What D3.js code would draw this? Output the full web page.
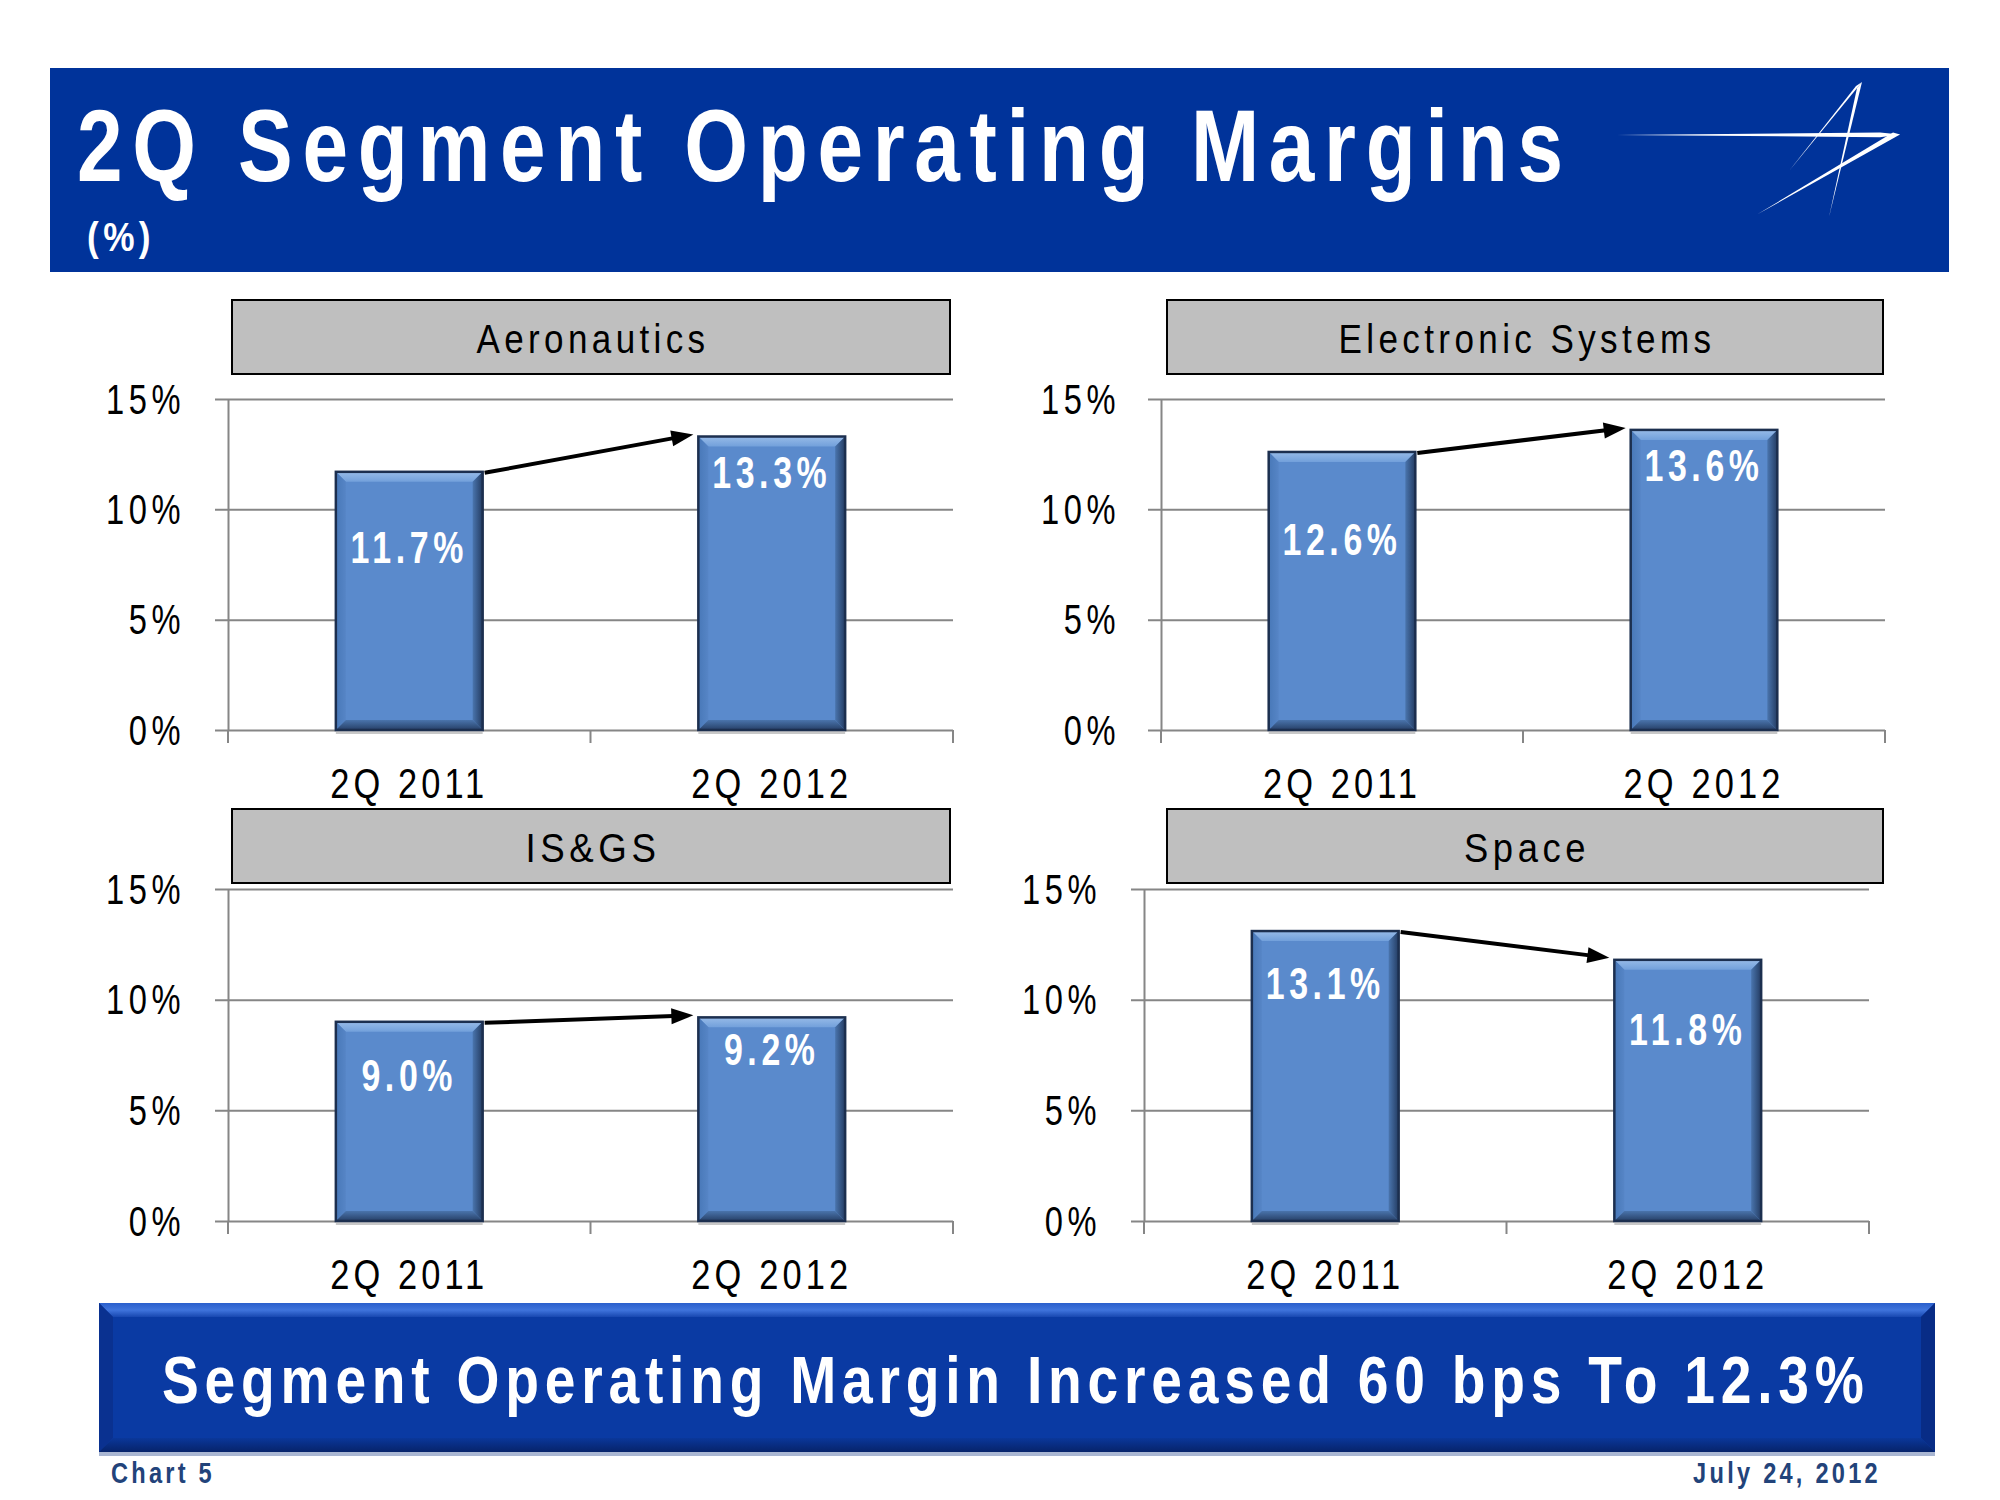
<!DOCTYPE html>
<html><head><meta charset="utf-8">
<script src="https://cdn.jsdelivr.net/npm/d3@7"></script>
<style>html,body{margin:0;padding:0;background:#fff;} svg{display:block}</style>
</head><body>
<svg id="chart" width="2000" height="1500"></svg>
<script>
// ---------------- data ----------------
const segments = ["Aeronautics", "Electronic Systems", "IS&GS", "Space"];
const periods = ["2Q 2011", "2Q 2012"];
const margin2Q2011 = [11.7, 12.6, 9.0, 13.1];
const margin2Q2012 = [13.3, 13.6, 9.2, 11.8];
const yTickValues = [0, 5, 10, 15];
const titleText = "2Q Segment Operating Margins";
const unitText = "(%)";
const bannerText = "Segment Operating Margin Increased 60 bps To 12.3%";
const footerLeft = "Chart 5";
const footerRight = "July 24, 2012";

// ---------------- layout ----------------
const FONT = "'Liberation Sans', Arial, sans-serif";
const panelLayout = [
  {x0: 228, x1: 953, yTop: 399, yBot: 730, box: [232, 300, 950, 374], tickRight: 181, titleW: 228},
  {x0: 1161, x1: 1885, yTop: 399, yBot: 730, box: [1167, 300, 1883, 374], tickRight: 1116, titleW: 372},
  {x0: 228, x1: 953, yTop: 889, yBot: 1221, box: [232, 809, 950, 883], tickRight: 181, titleW: 130},
  {x0: 1144, x1: 1869, yTop: 889, yBot: 1221, box: [1167, 809, 1883, 883], tickRight: 1097, titleW: 121}
];
const valueLabelDy = [[91, 51], [103, 51], [69, 48], [68, 85]];

const svg = d3.select("#chart");
svg.append("rect").attr("width", 2000).attr("height", 1500).attr("fill", "#fff");

// horizontally condense a text (narrow, letter-spaced look) by scaling about its anchor
function squeeze(sel, opt) {
  sel.each(function () {
    const el = d3.select(this);
    const L = this.getComputedTextLength();
    const s = opt.width ? opt.width / L : opt.factor;
    const x = +(el.attr("x") || 0), y = +(el.attr("y") || 0);
    const prev = el.attr("transform") || "";
    el.attr("x", 0).attr("y", 0).attr("transform", `${prev} translate(${x},${y}) scale(${s},1)`);
  });
}

// gradients
const defs = svg.append("defs");
function lg(id, x2, y2, stops) {
  const g = defs.append("linearGradient").attr("id", id).attr("x1", 0).attr("y1", 0).attr("x2", x2).attr("y2", y2);
  stops.forEach(s => g.append("stop").attr("offset", s[0]).attr("stop-color", s[1]));
}
lg("barRight", 1, 0, [[0, "#4a75ae"], [1, "#243c62"]]);
lg("barBottom", 0, 1, [[0, "#4a74ac"], [1, "#263f66"]]);
lg("barTop", 0, 1, [[0, "#97bbe8"], [1, "#72a0db"]]);
lg("barLeft", 1, 0, [[0, "#4878b8"], [1, "#5685c6"]]);
lg("banTop", 0, 1, [[0, "#2a5fcc"], [0.5, "#3f74dc"], [1, "#1847b0"]]);
lg("banBottom", 0, 1, [[0, "#0a379a"], [1, "#06236a"]]);

// ---------------- header ----------------
svg.append("rect").attr("x", 50).attr("y", 68).attr("width", 1899).attr("height", 204).attr("fill", "#00339a");
svg.append("text").attr("x", 77).attr("y", 181).text(titleText)
  .attr("font-family", FONT).attr("font-weight", "bold").attr("font-size", 102).attr("fill", "#fff")
  .attr("letter-spacing", 12).call(squeeze, {width: 1496});
svg.append("text").attr("x", 87).attr("y", 251).text(unitText)
  .attr("font-family", FONT).attr("font-weight", "bold").attr("font-size", 40).attr("fill", "#fff")
  .attr("letter-spacing", 5).call(squeeze, {width: 68});

// logo (tapered strokes)
const logo = svg.append("g").attr("fill", "#fff");
logo.append("path").attr("d", "M1617,135 L1880,132.6 L1900,134.5 L1880,137.2 Z");
logo.append("path").attr("d", "M1900,134.5 L1893,132.5 L1757,214.5 Z");
logo.append("path").attr("d", "M1862,82 L1856,86 L1789,171 Z");
logo.append("path").attr("d", "M1862,82 L1857,88 L1829,217 Z");

// ---------------- panels ----------------
const fmt = d3.format(".1f");
segments.forEach((seg, i) => {
  const p = panelLayout[i];
  const g = svg.append("g");
  const w = p.x1 - p.x0;
  const y = d3.scaleLinear().domain([0, 15]).range([p.yBot, p.yTop]);
  const x = d3.scaleBand().domain(periods).range([p.x0, p.x1]).paddingInner(0).paddingOuter(0);
  const barW = x.bandwidth() * 0.405;
  const vals = [margin2Q2011[i], margin2Q2012[i]];

  // title box
  const [bx0, by0, bx1, by1] = p.box;
  g.append("rect").attr("x", bx0).attr("y", by0).attr("width", bx1 - bx0).attr("height", by1 - by0)
    .attr("fill", "#bfbfbf").attr("stroke", "#000").attr("stroke-width", 2);
  g.append("text").attr("x", (bx0 + bx1) / 2 + 2).attr("y", by0 + 53).attr("text-anchor", "middle")
    .attr("font-family", FONT).attr("font-size", 40).attr("fill", "#000").text(seg)
    .attr("letter-spacing", 5).call(squeeze, {width: p.titleW + 5});

  // y axis with gridlines
  const yAxis = d3.axisLeft(y).tickValues(yTickValues).tickSize(-w).tickSizeOuter(0)
    .tickPadding(p.x0 - p.tickRight - 4).tickFormat(d => d + "%");
  const ya = g.append("g").attr("transform", `translate(${p.x0},0)`).call(yAxis);
  ya.select(".domain").attr("stroke", "#868686").attr("stroke-width", 2);
  ya.selectAll(".tick line").attr("stroke", "#868686").attr("stroke-width", 2).attr("x1", -13);
  ya.selectAll(".tick text").attr("font-family", FONT).attr("font-size", 43).attr("fill", "#000")
    .attr("letter-spacing", 6).attr("dy", "0.33em").call(squeeze, {factor: 0.76});

  // x axis
  const xAxis = d3.axisBottom(x).tickSize(0).tickPadding(38);
  const xa = g.append("g").attr("transform", `translate(0,${p.yBot})`).call(xAxis);
  xa.select(".domain").remove();
  xa.selectAll(".tick text").attr("font-family", FONT).attr("font-size", 42).attr("fill", "#000")
    .attr("letter-spacing", 5).call(squeeze, {factor: 0.82});
  const bounds = [x.range()[0], x(periods[1]), x.range()[1]];
  g.selectAll(".xtick").data(bounds).join("line")
    .attr("x1", d => d).attr("x2", d => d).attr("y1", p.yBot).attr("y2", p.yBot + 13)
    .attr("stroke", "#868686").attr("stroke-width", 2);

  // bars
  const b = 10;
  periods.forEach((per, j) => {
    const bx = x(per) + (x.bandwidth() - barW) / 2;
    const by = y(vals[j]);
    const bh = p.yBot - by;
    const bw = barW;
    const bg = g.append("g");
    bg.append("rect").attr("x", bx).attr("y", p.yBot).attr("width", bw).attr("height", 4).attr("fill", "#c8c8c8");
    bg.append("rect").attr("x", bx).attr("y", by).attr("width", bw).attr("height", bh).attr("fill", "#5a8acc");
    bg.append("path").attr("fill", "url(#barTop)")
      .attr("d", `M${bx},${by} L${bx + bw},${by} L${bx + bw - b},${by + b} L${bx + b},${by + b} Z`);
    bg.append("path").attr("fill", "url(#barLeft)")
      .attr("d", `M${bx},${by} L${bx + b},${by + b} L${bx + b},${by + bh - b} L${bx},${by + bh} Z`);
    bg.append("path").attr("fill", "url(#barRight)")
      .attr("d", `M${bx + bw},${by} L${bx + bw},${by + bh} L${bx + bw - b},${by + bh - b} L${bx + bw - b},${by + b} Z`);
    bg.append("path").attr("fill", "url(#barBottom)")
      .attr("d", `M${bx},${by + bh} L${bx + bw},${by + bh} L${bx + bw - b},${by + bh - b} L${bx + b},${by + bh - b} Z`);
    bg.append("rect").attr("x", bx).attr("y", by).attr("width", bw).attr("height", bh)
      .attr("fill", "none").attr("stroke", "#1c2f4f").attr("stroke-width", 2.5);
    bg.append("text").attr("x", bx + bw / 2).attr("y", by + valueLabelDy[i][j])
      .attr("text-anchor", "middle").attr("font-family", FONT).attr("font-weight", "bold")
      .attr("font-size", 44).attr("letter-spacing", 6).attr("fill", "#fff").text(fmt(vals[j]) + "%")
      .call(squeeze, {factor: 0.77});
  });

  // arrow
  const sx = x(periods[0]) + (x.bandwidth() + barW) / 2 + 2;
  const sy = y(vals[0]) + 1;
  const tx = x(periods[1]) + (x.bandwidth() - barW) / 2 - 5;
  const ty = y(vals[1]) - 2;
  const ang = Math.atan2(ty - sy, tx - sx);
  const hl = 22, hw = 8;
  const ex = tx - hl * Math.cos(ang), ey = ty - hl * Math.sin(ang);
  g.append("line").attr("x1", sx).attr("y1", sy).attr("x2", ex + 2 * Math.cos(ang)).attr("y2", ey + 2 * Math.sin(ang))
    .attr("stroke", "#000").attr("stroke-width", 4);
  const px = -Math.sin(ang), py = Math.cos(ang);
  g.append("path").attr("fill", "#000")
    .attr("d", `M${tx},${ty} L${ex + px * hw},${ey + py * hw} L${ex - px * hw},${ey - py * hw} Z`);
});

// ---------------- bottom banner ----------------
const bx0 = 99, bx1 = 1935, by0 = 1303, by1 = 1452, bb = 14;
svg.append("rect").attr("x", bx0).attr("y", by1).attr("width", bx1 - bx0).attr("height", 4).attr("fill", "#a9b6d2");
svg.append("rect").attr("x", bx0).attr("y", by0).attr("width", bx1 - bx0).attr("height", by1 - by0).attr("fill", "#0a3aa3");
svg.append("path").attr("fill", "url(#banTop)")
  .attr("d", `M${bx0},${by0} L${bx1},${by0} L${bx1 - bb},${by0 + bb} L${bx0 + bb},${by0 + bb} Z`);
svg.append("path").attr("fill", "#0a3190")
  .attr("d", `M${bx0},${by0} L${bx0 + bb},${by0 + bb} L${bx0 + bb},${by1 - bb} L${bx0},${by1} Z`);
svg.append("path").attr("fill", "#082c86")
  .attr("d", `M${bx1},${by0} L${bx1},${by1} L${bx1 - bb},${by1 - bb} L${bx1 - bb},${by0 + bb} Z`);
svg.append("path").attr("fill", "url(#banBottom)")
  .attr("d", `M${bx0},${by1} L${bx1},${by1} L${bx1 - bb},${by1 - bb} L${bx0 + bb},${by1 - bb} Z`);
svg.append("text").attr("x", 162).attr("y", 1403).text(bannerText)
  .attr("font-family", FONT).attr("font-weight", "bold").attr("font-size", 67).attr("fill", "#fff")
  .attr("letter-spacing", 7).call(squeeze, {width: 1708});

// ---------------- footer ----------------
svg.append("text").attr("x", 111).attr("y", 1483).text(footerLeft)
  .attr("font-family", FONT).attr("font-weight", "bold").attr("font-size", 29).attr("fill", "#22437a")
  .attr("letter-spacing", 4).call(squeeze, {width: 104});
svg.append("text").attr("x", 1881).attr("y", 1483).attr("text-anchor", "end").text(footerRight)
  .attr("font-family", FONT).attr("font-weight", "bold").attr("font-size", 29).attr("fill", "#22437a")
  .attr("letter-spacing", 4).call(squeeze, {width: 188});
</script>
</body></html>
